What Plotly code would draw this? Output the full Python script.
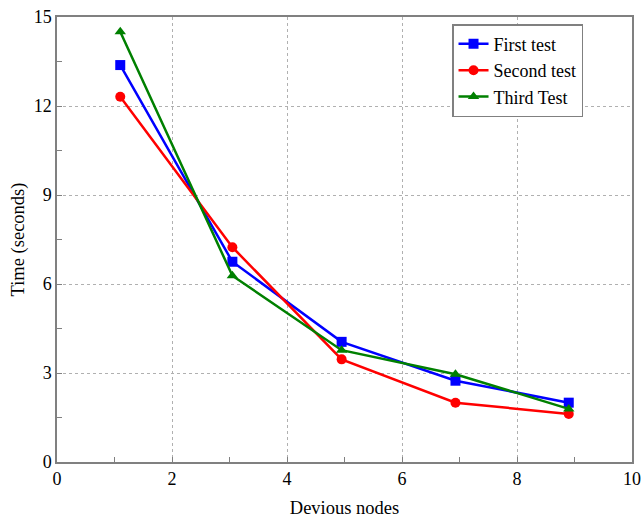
import plotly.graph_objects as go

nodes = [1.1, 3.05, 4.95, 6.93, 8.9]
first_test = [13.38, 6.75, 4.05, 2.74, 2.0]
second_test = [12.31, 7.24, 3.46, 2.0, 1.62]
third_test = [14.5, 6.28, 3.77, 2.96, 1.79]

series = [
    ("First test", first_test, "#0000FF", "square"),
    ("Second test", second_test, "#FF0000", "circle"),
    ("Third Test", third_test, "#008000", "triangle-up"),
]

fig = go.Figure()
for name, vals, col, sym in series:
    fig.add_trace(go.Scatter(
        x=nodes, y=vals, name=name, mode="lines+markers",
        line=dict(color=col, width=2.5),
        marker=dict(symbol=sym, size=10, color=col),
    ))

font = "Liberation Serif"
axis_common = dict(
    showline=True, mirror=True, linecolor="#808080", linewidth=1.5,
    showgrid=True, gridcolor="#b0b0b0", griddash="dot", gridwidth=1,
    ticks="inside", ticklen=5, tickcolor="#808080",
    zeroline=False, automargin=False, ticklabeloverflow="allow",
    tickfont=dict(family=font, size=18, color="black"),
)
fig.update_xaxes(range=[0, 10], dtick=2, title=dict(text="Devious nodes", font=dict(family=font, size=18.5, color="black"), standoff=14),
                 minor=dict(dtick=1, ticks="inside", ticklen=5, tickcolor="#808080", showgrid=False), **axis_common)
fig.update_yaxes(range=[0, 15], dtick=3, title=dict(text="Time (seconds)", font=dict(family=font, size=18.5, color="black"), standoff=4),
                 minor=dict(dtick=1.5, ticks="inside", ticklen=5, tickcolor="#808080", showgrid=False), **axis_common)

fig.update_layout(
    width=642, height=518,
    margin=dict(l=57, r=10, t=17, b=56),
    plot_bgcolor="white", paper_bgcolor="white",
    font=dict(family=font, size=18, color="black"),
    legend=dict(x=0.687, y=0.984, xanchor="left", yanchor="top",
                bordercolor="#808080", borderwidth=1.5, bgcolor="white",
                font=dict(family=font, size=18, color="black"),
                itemwidth=30, tracegroupgap=0),
    showlegend=True,
)

fig.write_html(
    "out.html",
    config={"displayModeBar": False},
    post_script="document.body.style.margin='0';document.body.style.overflow='hidden';",
)
